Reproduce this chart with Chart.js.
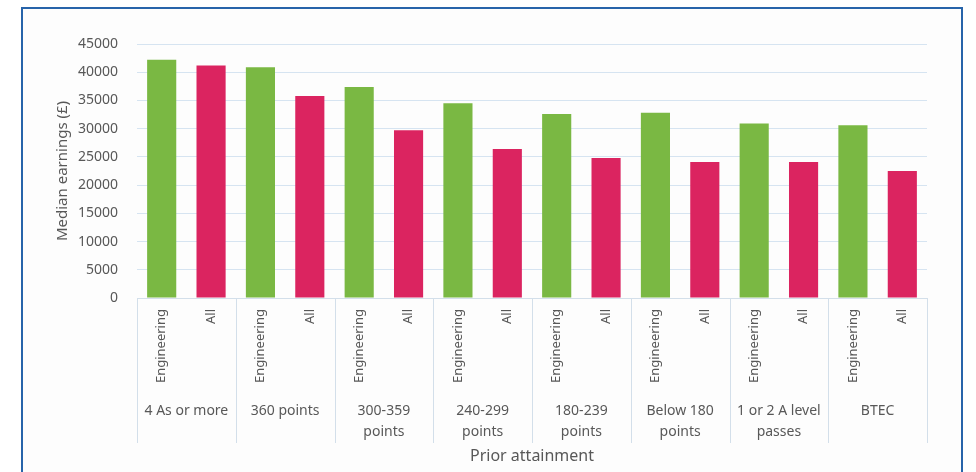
<!DOCTYPE html>
<html>
<head>
<meta charset="utf-8">
<script src="https://cdn.jsdelivr.net/npm/chart.js@4"></script>
<style>
  html, body { margin: 0; padding: 0; background: #ffffff; overflow: hidden; }
  #frame {
    position: absolute; left: 21px; top: 7px; width: 938px; height: 500px;
    border: 2px solid #2764aa; background: #fdfdfd;
  }
  #chart { position: absolute; left: 0; top: 0; }
</style>
</head>
<body>
<div id="frame"></div>
<canvas id="chart" width="976" height="472"></canvas>
<script>
/* Groups along the x axis */
const groups = [
  ["4 As or more"],
  ["360 points"],
  ["300-359", "points"],
  ["240-299", "points"],
  ["180-239", "points"],
  ["Below 180", "points"],
  ["1 or 2 A level", "passes"],
  ["BTEC"],
];
/* Series names, one bar each per group */
const seriesNames = ["Engineering", "All"];
/* Median earnings (£) */
const engineering = [42200, 40900, 37400, 34500, 32600, 32800, 30900, 30600];
const allGraduates = [41200, 35800, 29700, 26400, 24800, 24100, 24100, 22500];
/* Y ticks */
const yTicks = [0, 5000, 10000, 15000, 20000, 25000, 30000, 35000, 40000, 45000];

const GREEN = "#7ab843";
const RED = "#db2460";
const TEXT = "#585858";

/* Interleave the two series into one row of bars */
const labels = [];
const values = [];
const colors = [];
groups.forEach((g, i) => {
  labels.push(seriesNames[0], seriesNames[1]);
  values.push(engineering[i], allGraduates[i]);
  colors.push(GREEN, RED);
});

/* Group labels + separators under the bar labels */
const groupAxis = {
  id: "groupAxis",
  afterDraw(chart) {
    const x = chart.scales.x;
    const ctx = chart.ctx;
    const pitch = x.width / labels.length;
    ctx.save();
    ctx.strokeStyle = "#d3dfea";
    ctx.lineWidth = 1;
    for (let g = 0; g <= groups.length; g++) {
      const px = Math.round(x.left + g * 2 * pitch) + 0.5;
      ctx.beginPath();
      ctx.moveTo(px, x.top);
      ctx.lineTo(px, 443);
      ctx.stroke();
    }
    ctx.fillStyle = TEXT;
    ctx.font = "14px 'Noto Sans'";
    ctx.textAlign = "center";
    ctx.textBaseline = "middle";
    groups.forEach((lines, g) => {
      const cx = (x.getPixelForValue(2 * g) + x.getPixelForValue(2 * g + 1)) / 2;
      lines.forEach((line, k) => {
        ctx.fillText(line, cx, 411 + k * 21);
      });
    });
    ctx.restore();
  },
};

new Chart(document.getElementById("chart"), {
  type: "bar",
  plugins: [groupAxis],
  data: {
    labels: labels,
    datasets: [
      {
        data: values,
        backgroundColor: colors,
        borderWidth: 0,
        categoryPercentage: 1,
        barPercentage: 0.59,
      },
    ],
  },
  options: {
    responsive: false,
    animation: false,
    layout: { padding: { left: 50, top: 44, right: 49, bottom: 0 } },
    plugins: {
      legend: { display: false },
      tooltip: { enabled: false },
    },
    scales: {
      y: {
        min: 0,
        max: 45000,
        afterBuildTicks: (s) => { s.ticks = yTicks.map((v) => ({ value: v })); },
        afterFit: (s) => { s.width = 87; },
        border: { display: false },
        grid: { color: "#d6e4f1", drawTicks: false },
        ticks: {
          padding: 19,
          color: TEXT,
          font: { family: "Noto Sans", size: 14 },
          callback: (v) => String(v),
        },
        title: {
          display: true,
          text: "Median earnings (£)",
          color: TEXT,
          font: { family: "Noto Sans", size: 15 },
          padding: { top: 4 },
        },
      },
      x: {
        afterFit: (s) => { s.height = 174; },
        border: { display: true, color: "#d3dfea" },
        grid: { display: false, drawTicks: false },
        ticks: {
          autoSkip: false,
          minRotation: 90,
          maxRotation: 90,
          padding: 11,
          color: TEXT,
          font: { family: "Noto Sans", size: 13 },
        },
        title: {
          display: true,
          text: "Prior attainment",
          color: TEXT,
          font: { family: "Noto Sans", size: 16 },
          padding: { bottom: 6 },
        },
      },
    },
  },
});
</script>
</body>
</html>
